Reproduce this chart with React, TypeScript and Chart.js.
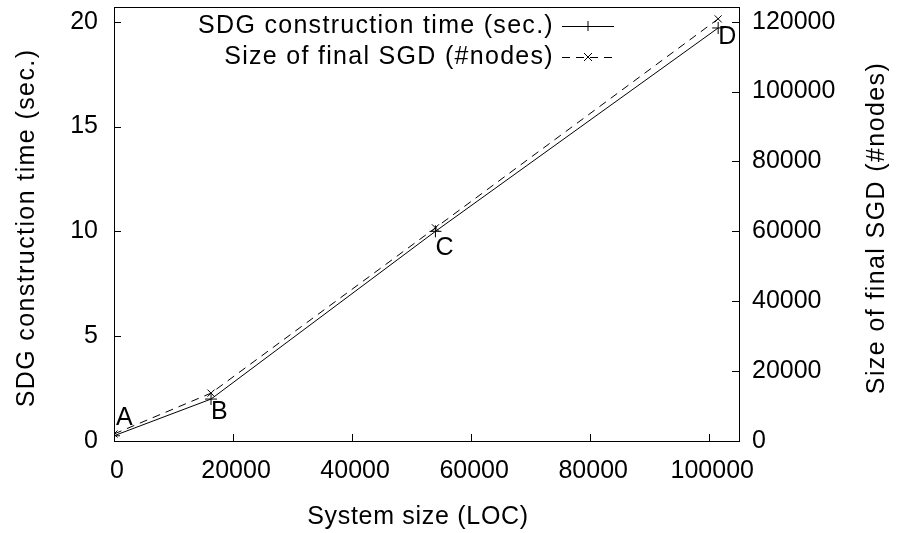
import React, { useEffect, useRef } from 'react';
import { Chart, registerables } from 'chart.js';

Chart.register(...registerables);

// ---- data ----
const systemSizeLOC = [0, 16300, 54000, 101500];
const constructionTimeSec = [0.25, 2.0, 10.0, 19.7];
const finalSizeNodes = [2000, 13700, 61000, 120800];
const pointLabels = ['A', 'B', 'C', 'D'];
const pointLabelTime = [1.09, 1.36, 9.19, 19.28];

const xTickValues = [0, 20000, 40000, 60000, 80000, 100000];
const yTickValues = [0, 5, 10, 15, 20];
const y2TickValues = [0, 20000, 40000, 60000, 80000, 100000, 120000];

const seriesNames = ['SDG construction time (sec.)', 'Size of final SGD (#nodes)'];
const xTitle = 'System size (LOC)';
const yTitle = 'SDG construction time (sec.)';
const y2Title = 'Size of final SGD (#nodes)';

const FONT_FAMILY = '"Liberation Sans", Arial, Helvetica, sans-serif';
const FONT_SIZE = 25;

const gnuplotPlugin = {
  id: 'gnuplotDecor',
  afterDraw(chart: any) {
    const ctx = chart.ctx;
    const area = chart.chartArea;
    const xs = chart.scales.x;
    const ys = chart.scales.y;
    const y2s = chart.scales.y2;
    ctx.save();
    ctx.strokeStyle = '#000';
    ctx.lineWidth = 1;
    // frame
    ctx.strokeRect(Math.round(area.left) + 0.5, Math.round(area.top) + 0.5,
      Math.round(area.right - area.left), Math.round(area.bottom - area.top));
    // inward ticks
    const tl = 7;
    ctx.beginPath();
    xTickValues.forEach((v) => {
      const px = Math.round(xs.getPixelForValue(v)) + 0.5;
      ctx.moveTo(px, area.bottom);
      ctx.lineTo(px, area.bottom - tl);
    });
    yTickValues.forEach((v) => {
      const py = Math.round(ys.getPixelForValue(v)) + 0.5;
      ctx.moveTo(area.left, py);
      ctx.lineTo(area.left + tl, py);
    });
    y2TickValues.forEach((v) => {
      const py = Math.round(y2s.getPixelForValue(v)) + 0.5;
      ctx.moveTo(area.right, py);
      ctx.lineTo(area.right - tl, py);
    });
    ctx.stroke();

    ctx.fillStyle = '#000';
    ctx.font = `${FONT_SIZE}px ${FONT_FAMILY}`;
    ctx.textBaseline = 'middle';

    // point labels
    ctx.textAlign = 'left';
    pointLabels.forEach((lab, i) => {
      ctx.fillText(lab, xs.getPixelForValue(systemSizeLOC[i]) + (i === 0 ? 2 : 0), ys.getPixelForValue(pointLabelTime[i]));
    });

    // axis titles
    ctx.textAlign = 'center';
    (ctx as any).letterSpacing = '0.7px';
    ctx.fillText(xTitle, 418, 517);
    (ctx as any).letterSpacing = '1.4px';
    const midY = (area.top + area.bottom) / 2;
    ctx.save();
    ctx.translate(27, midY + 4);
    ctx.rotate(-Math.PI / 2);
    ctx.fillText(yTitle, 0, 0);
    ctx.restore();
    ctx.save();
    ctx.translate(877, midY + 4);
    ctx.rotate(-Math.PI / 2);
    ctx.fillText(y2Title, 0, 0);
    ctx.restore();

    // legend (gnuplot style: text right-aligned, sample to the right)
    (ctx as any).letterSpacing = '1.3px';
    const textRight = 554;
    const sampleL = 562;
    const sampleR = 614;
    const rows = [26, 57];
    ctx.textAlign = 'right';
    seriesNames.forEach((name, i) => {
      const ry = rows[i];
      ctx.fillText(name, textRight, ry);
      ctx.beginPath();
      ctx.setLineDash(i === 0 ? [] : [8, 6]);
      ctx.moveTo(sampleL, ry + 0.5);
      ctx.lineTo(sampleR, ry + 0.5);
      ctx.stroke();
      ctx.setLineDash([]);
      const mx = (sampleL + sampleR) / 2;
      const r = 5;
      ctx.beginPath();
      if (i === 0) {
        ctx.moveTo(mx - r, ry + 0.5); ctx.lineTo(mx + r, ry + 0.5);
        ctx.moveTo(mx, ry - r); ctx.lineTo(mx, ry + r);
      } else {
        ctx.moveTo(mx - 4, ry - 4); ctx.lineTo(mx + 4, ry + 4);
        ctx.moveTo(mx - 4, ry + 4); ctx.lineTo(mx + 4, ry - 4);
      }
      ctx.stroke();
    });
    (ctx as any).letterSpacing = '0px';
    ctx.restore();
  },
};

export default function App() {
  const canvasRef = useRef<HTMLCanvasElement | null>(null);

  useEffect(() => {
    if (!canvasRef.current) return;
    const tickFont = { family: FONT_FAMILY, size: FONT_SIZE };
    const chart = new Chart(canvasRef.current, {
      type: 'line',
      data: {
        datasets: [
          {
            label: seriesNames[0],
            data: systemSizeLOC.map((x, i) => ({ x, y: constructionTimeSec[i] })),
            borderColor: '#000',
            backgroundColor: '#000',
            borderWidth: 1,
            pointStyle: 'cross',
            pointRadius: 6,
            pointBorderWidth: 1,
            yAxisID: 'y',
            tension: 0,
          },
          {
            label: seriesNames[1],
            data: systemSizeLOC.map((x, i) => ({ x, y: finalSizeNodes[i] })),
            borderColor: '#000',
            backgroundColor: '#000',
            borderWidth: 1,
            borderDash: [8, 6],
            pointStyle: 'crossRot',
            pointRadius: 5,
            pointBorderWidth: 1,
            yAxisID: 'y2',
            tension: 0,
          },
        ],
      },
      options: {
        animation: false,
        responsive: false,
        devicePixelRatio: 1,
        layout: { padding: { top: 6, left: 0, right: 0, bottom: 0 } },
        plugins: {
          legend: { display: false },
          tooltip: { enabled: false },
        },
        scales: {
          x: {
            type: 'linear',
            min: 0,
            max: 105000,
            grid: { display: false, drawTicks: false },
            border: { display: false },
            afterBuildTicks: (s: any) => { s.ticks = xTickValues.map((v) => ({ value: v })); },
            afterFit: (s: any) => { s.height = 92; s.paddingLeft = 0; s.paddingRight = 0; },
            ticks: {
              color: '#000',
              font: tickFont,
              padding: 15,
              labelOffset: 3,
              maxRotation: 0,
              autoSkip: false,
              callback: (v: any) => String(v),
            },
          },
          y: {
            type: 'linear',
            position: 'left',
            min: 0,
            max: 20.7,
            grid: { display: false, drawTicks: false },
            border: { display: false },
            afterBuildTicks: (s: any) => { s.ticks = yTickValues.map((v) => ({ value: v })); },
            afterFit: (s: any) => { s.width = 114; s.paddingTop = 0; s.paddingBottom = 0; },
            ticks: { color: '#000', font: tickFont, padding: 16, callback: (v: any) => String(v) },
          },
          y2: {
            type: 'linear',
            position: 'right',
            min: 0,
            max: 124200,
            grid: { display: false, drawTicks: false },
            border: { display: false },
            afterBuildTicks: (s: any) => { s.ticks = y2TickValues.map((v) => ({ value: v })); },
            afterFit: (s: any) => { s.width = 158; s.paddingTop = 0; s.paddingBottom = 0; },
            ticks: { color: '#000', font: tickFont, padding: 13, callback: (v: any) => String(v) },
          },
        },
      },
      plugins: [gnuplotPlugin],
    } as any);
    return () => chart.destroy();
  }, []);

  return (
    <div style={{ position: 'absolute', left: 0, top: 0, width: 897, height: 533, background: '#fff' }}>
      <canvas ref={canvasRef} width={897} height={533} style={{ display: 'block', width: 897, height: 533 }} />
    </div>
  );
}
